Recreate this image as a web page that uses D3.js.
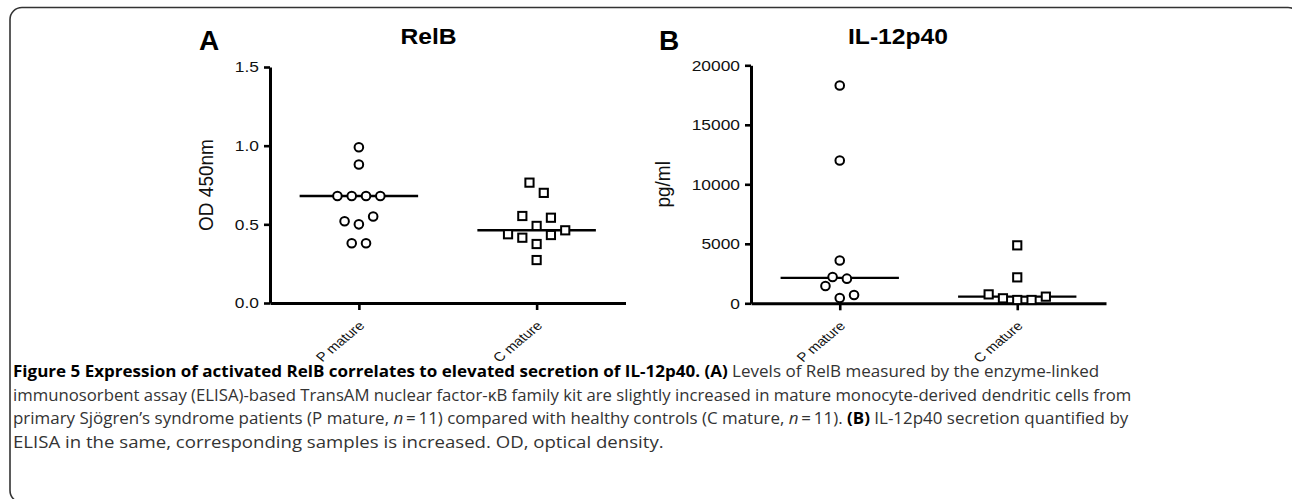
<!DOCTYPE html>
<html><head><meta charset="utf-8">
<script src="https://cdn.jsdelivr.net/npm/d3@7"></script>
<style>body{margin:0;background:#fff} svg{display:block}</style>
</head><body>
<svg id="c" width="1292" height="499"></svg>
<script>
// ---------------- data ----------------
const categories = ["P mature", "C mature"];
// Column-scatter rows (each inner array = one row of symbols, listed left to right)
const relbP = [[0.99], [0.88], [0.68, 0.68, 0.68, 0.68], [0.52, 0.50, 0.55], [0.38, 0.38]];
const relbC = [[0.765, 0.70], [0.553, 0.49, 0.542], [0.437, 0.415, 0.375, 0.432, 0.462], [0.273]];
const il12P = [[18300], [12000], [3600], [2210, 2070], [1450, 450, 700]];
const il12C = [[4870], [2180], [750, 420, 280, 280, 560]];
const relbTicks = [0, 0.5, 1.0, 1.5];
const il12Ticks = [0, 5000, 10000, 15000, 20000];
const panelLetters = ["A", "B"];
const panelTitles = ["RelB", "IL-12p40"];
const yLabels = ["OD 450nm", "pg/ml"];
const captionLines = [
  [{t:"Figure 5 Expression of activated RelB correlates to elevated secretion of IL-12p40. (A)", b:true}, {t:" Levels of RelB measured by the enzyme-linked"}],
  [{t:"immunosorbent assay (ELISA)-based TransAM nuclear factor-\u03baB family kit are slightly increased in mature monocyte-derived dendritic cells from"}],
  [{t:"primary Sj\u00f6gren\u2019s syndrome patients (P mature, "}, {t:"n", i:true}, {t:"\u2009=\u200911) compared with healthy controls (C mature, "}, {t:"n", i:true}, {t:"\u2009=\u200911). "}, {t:"(B)", b:true}, {t:" IL-12p40 secretion quantified by"}],
  [{t:"ELISA in the same, corresponding samples is increased. OD, optical density."}]
];

// ---------------- drawing ----------------
const svg = d3.select("#c");
const FONT = "'Liberation Sans', Arial, Helvetica, sans-serif";
const HSTRETCH = 1.2; // the original figure is horizontally stretched

// frame
svg.append("rect").attr("x", 10).attr("y", 7.5).attr("width", 1290).attr("height", 495)
  .attr("rx", 12).attr("ry", 12).attr("fill", "none").attr("stroke", "#333").attr("stroke-width", 1.6);

function stretch(sel, f) {
  sel.each(function () {
    const w = this.getComputedTextLength();
    this.setAttribute("textLength", w * f);
    this.setAttribute("lengthAdjust", "spacingAndGlyphs");
  });
}

const panels = [
  {x0: 270, x1: 625.5, yb: 303, yt: 67, max: 1.5, ticks: relbTicks, fmt: d3.format(".1f"),
   data: [relbP, relbC], letter: panelLetters[0], letterX: 199, title: panelTitles[0], titleX: 428.5,
   ylab: yLabels[0], ylabX: 213},
  {x0: 751, x1: 1106, yb: 303.3, yt: 65.3, max: 20000, ticks: il12Ticks, fmt: d3.format("d"),
   data: [il12P, il12C], letter: panelLetters[1], letterX: 659, title: panelTitles[1], titleX: 898,
   ylab: yLabels[1], ylabX: 670}
];

const spacing = 14.3;

panels.forEach(p => {
  const g = svg.append("g");
  const x = d3.scalePoint().domain(categories).range([p.x0, p.x1]).padding(0.5);
  const y = d3.scaleLinear().domain([0, p.max]).range([p.yb, p.yt]);

  // y axis
  const ya = g.append("g").attr("transform", `translate(${p.x0},0)`)
    .call(d3.axisLeft(y).tickValues(p.ticks).tickFormat(p.fmt).tickSize(6).tickSizeOuter(0).tickPadding(5));
  ya.select(".domain").attr("stroke", "#000").attr("stroke-width", 3);
  ya.selectAll(".tick line").attr("stroke", "#000").attr("stroke-width", 2.6);
  ya.selectAll(".tick text").attr("font-family", FONT).attr("font-size", 15.5).attr("fill", "#111")
    .call(stretch, 1.12);

  // x axis
  const xa = g.append("g").attr("transform", `translate(0,${y(0)})`)
    .call(d3.axisBottom(x).tickSize(7).tickSizeOuter(0).tickFormat(""));
  xa.select(".domain").attr("stroke", "#000").attr("stroke-width", 3);
  xa.selectAll(".tick line").attr("stroke", "#000").attr("stroke-width", 2.6);
  xa.selectAll(".tick text").remove();

  // category labels (rotated, then horizontally stretched like the source)
  categories.forEach(c => {
    g.append("text")
      .attr("transform", `translate(${x(c) + 6.5},${y(0) + 23.5}) scale(${HSTRETCH},1) rotate(-45)`)
      .attr("text-anchor", "end").attr("font-family", FONT).attr("font-size", 12.6).attr("fill", "#111")
      .text(c);
  });

  // medians
  const step = x.step();
  p.data.forEach((rows, ci) => {
    const c = categories[ci];
    const med = d3.median(rows.flat());
    g.append("line").attr("x1", x(c) - step / 3).attr("x2", x(c) + step / 3)
      .attr("y1", y(med)).attr("y2", y(med)).attr("stroke", "#000").attr("stroke-width", 2.4);
  });

  // points
  p.data.forEach((rows, ci) => {
    const c = categories[ci];
    rows.forEach(row => {
      const n = row.length;
      row.forEach((v, i) => {
        const cx = x(c) + (i - (n - 1) / 2) * spacing;
        const cy = y(v);
        if (ci === 0) {
          g.append("circle").attr("cx", cx).attr("cy", cy).attr("r", 4.3)
            .attr("fill", "#fff").attr("stroke", "#000").attr("stroke-width", 2);
        } else {
          const s = 8.2;
          g.append("rect").attr("x", cx - s / 2).attr("y", cy - s / 2).attr("width", s).attr("height", s)
            .attr("fill", "#fff").attr("stroke", "#000").attr("stroke-width", 2);
        }
      });
    });
  });

  // titles
  svg.append("text").attr("x", p.letterX).attr("y", 50).attr("font-family", FONT)
    .attr("font-weight", "bold").attr("font-size", 28).attr("fill", "#000").text(p.letter);
  svg.append("text").attr("x", p.titleX).attr("y", 44).attr("text-anchor", "middle").attr("font-family", FONT)
    .attr("font-weight", "bold").attr("font-size", 22).attr("fill", "#000").text(p.title).call(stretch, 1.12);
  // y label
  svg.append("text")
    .attr("transform", `translate(${p.ylabX},${(p.yb + p.yt) / 2}) scale(1.1,1) rotate(-90)`)
    .attr("text-anchor", "middle").attr("font-family", FONT).attr("font-size", 19).attr("fill", "#111")
    .text(p.ylab);
});

// caption
const capTargets = [[13, 377, 1100], [13, 400.5, 1132], [13, 424, 1128.5], [13, 447.5, 664]];
captionLines.forEach((line, li) => {
  const [x0, yb, xEnd] = capTargets[li];
  const t = svg.append("text").attr("x", 0).attr("y", 0)
    .attr("font-family", "'Open Sans', 'Noto Sans', sans-serif").attr("font-size", 16.5).attr("fill", "#333");
  line.forEach(seg => {
    const ts = t.append("tspan").text(seg.t);
    if (seg.b) ts.attr("font-weight", "bold").attr("fill", "#000");
    if (seg.i) ts.attr("font-style", "italic");
  });
  const w = t.node().getComputedTextLength();
  const s = (xEnd - x0) / w;
  t.attr("transform", `translate(${x0},${yb}) scale(${s},1)`);
});
</script>
</body></html>
